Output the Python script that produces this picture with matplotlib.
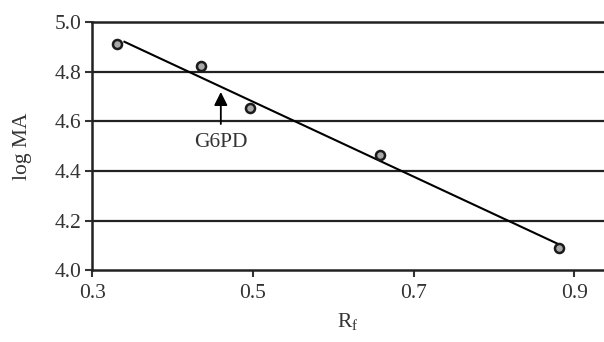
import numpy as np
import matplotlib
matplotlib.use("Agg")
import matplotlib.pyplot as plt

# Rf vs log MA
rf = [0.331, 0.435, 0.496, 0.658, 0.881]
log_ma = [4.910, 4.822, 4.653, 4.465, 4.091]

xticks = [0.3, 0.5, 0.7, 0.9]
yticks = [4.0, 4.2, 4.4, 4.6, 4.8, 5.0]

# G6PD position (arrow points at the fitted line)
g6pd_rf = 0.460

plt.rcParams['font.family'] = ['Liberation Serif', 'DejaVu Serif']
plt.rcParams['mathtext.fontset'] = 'custom'
plt.rcParams['mathtext.rm'] = 'Liberation Serif'

fig = plt.figure(figsize=(6.04, 3.42), dpi=100)
ax = fig.add_axes([0.1528, 0.2096, 0.8472, 0.7261])

slope, icpt = np.polyfit(rf, log_ma, 1)
xl = np.array([0.34, rf[-1]])
ax.plot(xl, slope * xl + icpt, color='black', lw=1.5, zorder=3)

ax.plot(rf, log_ma, 'o', ms=6.5, mfc='#a8a8a8', mec='#1a1a1a', mew=1.8, zorder=4)

for y in yticks[1:-1]:
    ax.axhline(y, color='#222222', lw=1.6, zorder=1)

ax.set_xlim(0.3, 0.937)
ax.set_ylim(4.0, 5.0)
ax.set_xticks(xticks)
ax.set_xticklabels(['0.3', '0.5', '0.7', '0.9'])
ax.set_yticks(yticks)
ax.set_yticklabels(['%.1f' % v for v in yticks])

ax.spines['right'].set_visible(False)
for s in ('left', 'bottom', 'top'):
    ax.spines[s].set_linewidth(1.8)
    ax.spines[s].set_color('#222222')
ax.tick_params(direction='out', length=5, width=1.5, labelsize=15.5, colors='#333333')
ax.tick_params(axis='x', pad=5)
ax.tick_params(axis='y', pad=3)

ax.set_xlabel('R$_\\mathrm{f}$', fontsize=15.5, color='#333333', labelpad=6)
ax.set_ylabel('log MA', fontsize=15.5, color='#333333', labelpad=16)

yline = slope * g6pd_rf + icpt
ax.annotate('', xy=(g6pd_rf, yline - 0.01), xytext=(g6pd_rf, 4.578),
            arrowprops=dict(arrowstyle='-|>', color='black', lw=1.3,
                            mutation_scale=20))
ax.text(g6pd_rf, 4.513, 'G6PD', fontsize=15.5, ha='center', va='center',
        color='#333333')

fig.savefig('out.png', dpi=100)
